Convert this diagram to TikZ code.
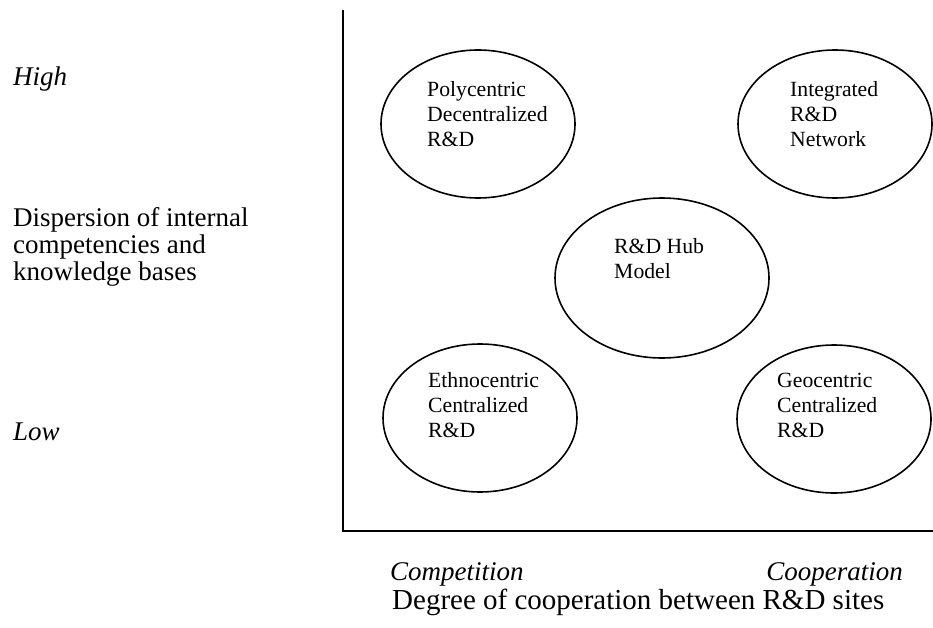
\documentclass[tikz,border=0pt]{standalone}
\usepackage{fontspec}
\setmainfont{Liberation Serif}
\usetikzlibrary{shapes.geometric}
\newcommand{\toplines}[1]{\begin{tabular}[t]{@{}l@{}}#1\end{tabular}}
\tikzset{
  oval/.style={draw, ellipse, line width=1.6pt, minimum width=194pt, minimum height=148pt, inner sep=0pt},
  intext/.style={anchor=base west, inner sep=0pt, font=\fontsize{21.7}{25}\selectfont},
  axlabel/.style={anchor=base west, inner sep=0pt, font=\fontsize{27}{27}\selectfont},
  itlabel/.style={anchor=base west, inner sep=0pt, font=\fontsize{27}{27}\selectfont\itshape},
  axis/.style={line width=1.6pt}
}
\begin{document}
\begin{tikzpicture}[x=1pt,y=-1pt]
\useasboundingbox (0,0) rectangle (933,628);
% axes
\coordinate (ytop) at (343,10);
\coordinate (orig) at (343,531);
\coordinate (xend) at (933,531);
\draw[axis] (ytop) -- (orig) -- (xend);
% ellipses
\node[oval] (poly) at (478,124) {};
\node[oval] (integ) at (835,124) {};
\node[oval, minimum width=214pt, minimum height=160pt] (hub) at (662,278) {};
\node[oval] (ethno) at (480,418) {};
\node[oval] (geo) at (834,419) {};
% ellipse texts
\node[intext] (polyt) at (427,97) {\toplines{Polycentric\\Decentralized\\R\&D}};
\node[intext] (integt) at (790,97) {\toplines{Integrated\\R\&D\\Network}};
\node[intext] (hubt) at (614,253) {\toplines{R\&D Hub\\Model}};
\node[intext] (ethnot) at (428,387) {\toplines{Ethnocentric\\Centralized\\R\&D}};
\node[intext] (geot) at (777,387) {\toplines{Geocentric\\Centralized\\R\&D}};
% axis labels
\node[itlabel] (high) at (13,86) {High};
\node[axlabel] (disp) at (13,226) {\toplines{Dispersion of internal\\competencies and\\knowledge bases}};
\node[itlabel] (low) at (13,440) {Low};
\node[itlabel] (comp) at (390,580) {Competition};
\node[itlabel, anchor=base east] (coop) at (903,580) {Cooperation};
\node[axlabel, font=\fontsize{29}{30}\selectfont] (degree) at (392,609) {Degree of cooperation between R\&D sites};
\end{tikzpicture}
\end{document}
